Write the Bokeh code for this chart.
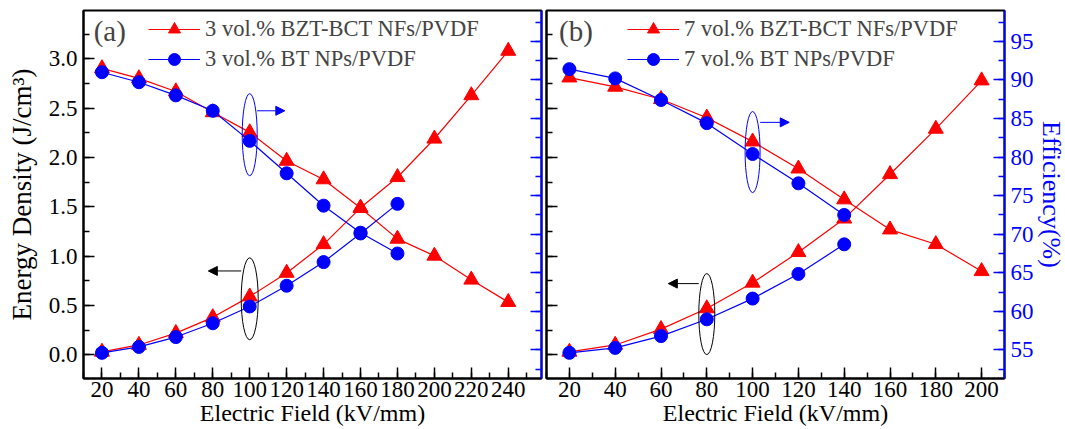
from bokeh.plotting import figure
from bokeh.models import (Range1d, LinearAxis, SingleIntervalTicker, NumeralTickFormatter,
                          CustomJSTickFormatter, Legend, LegendItem, Label, Arrow, NormalHead)
from bokeh.layouts import row
from bokeh.embed import file_html
from bokeh.resources import INLINE

# ---------------- data ----------------
field_bzt3 = [20, 40, 60, 80, 100, 120, 140, 160, 180, 200, 220, 240]
field_bt3 = [20, 40, 60, 80, 100, 120, 140, 160, 180]
ud_bzt3 = [0.03, 0.10, 0.22, 0.38, 0.59, 0.83, 1.12, 1.49, 1.80, 2.19, 2.63, 3.08]
ud_bt3 = [0.02, 0.08, 0.18, 0.32, 0.49, 0.70, 0.94, 1.23, 1.53]
eff_bzt3 = [91.5, 90.2, 88.5, 85.8, 83.2, 79.5, 77.1, 73.4, 69.4, 67.2, 64.1, 61.2]
eff_bt3 = [91.0, 89.7, 88.0, 86.0, 82.1, 77.9, 73.7, 70.2, 67.5]

field_bzt7 = [20, 40, 60, 80, 100, 120, 140, 160, 180, 200]
field_bt7 = [20, 40, 60, 80, 100, 120, 140]
ud_bzt7 = [0.03, 0.10, 0.26, 0.47, 0.73, 1.04, 1.38, 1.83, 2.29, 2.78]
ud_bt7 = [0.02, 0.07, 0.19, 0.36, 0.57, 0.82, 1.12]
eff_bzt7 = [90.3, 89.1, 87.5, 85.1, 82.0, 78.5, 74.5, 70.6, 68.7, 65.2]
eff_bt7 = [91.4, 90.2, 87.4, 84.4, 80.4, 76.6, 72.5]

labels_a = ["3 vol.% BZT-BCT NFs/PVDF", "3 vol.% BT NPs/PVDF"]
labels_b = ["7 vol.% BZT-BCT NFs/PVDF", "7 vol.% BT NPs/PVDF"]

FONT = "'Liberation Serif', 'Times New Roman', serif"
RED = "#FF0000"
BLUE = "#0000FF"
TICK_FS = "23px"
XLAB_FS = "24px"
YLAB_FS = "27px"
EFF_FS = "26px"
LEG_FS = "22.5px"
EMPTY = CustomJSTickFormatter(code="return ''")


def style_axis(ax, color, show_labels=True, major_interval=0.5, fmt="0.0"):
    ax.ticker = SingleIntervalTicker(interval=major_interval, num_minor_ticks=2)
    ax.axis_line_color = color
    ax.axis_line_width = 2
    ax.major_tick_line_color = color
    ax.minor_tick_line_color = color
    ax.major_tick_line_width = 1.5
    ax.minor_tick_line_width = 1.5
    ax.major_tick_in = 11
    ax.major_tick_out = 0
    ax.minor_tick_in = 6
    ax.minor_tick_out = 0
    ax.major_label_text_font = FONT
    ax.major_label_text_color = color
    ax.major_label_text_font_size = TICK_FS
    ax.axis_label_text_font = FONT
    ax.axis_label_text_font_style = "normal"
    ax.axis_label_text_color = color
    ax.axis_label_text_font_size = YLAB_FS
    if show_labels:
        if fmt:
            ax.formatter = NumeralTickFormatter(format=fmt)
    else:
        ax.formatter = EMPTY
        ax.major_label_standoff = 0


def make_panel(xr, yr, effr, border_left, border_right):
    p = figure(frame_width=458, frame_height=368, x_range=xr, y_range=yr,
               output_backend="svg", toolbar_location=None,
               min_border_left=border_left, min_border_right=border_right,
               min_border_top=10, min_border_bottom=50)
    p.extra_y_ranges = {"eff": effr}
    p.xgrid.visible = False
    p.ygrid.visible = False
    p.outline_line_color = "black"
    p.outline_line_width = 2
    p.background_fill_color = "white"
    p.border_fill_color = "white"
    xa = p.xaxis[0]
    style_axis(xa, "black", True, 20, None)
    xa.axis_label = "Electric Field (kV/mm)"
    xa.axis_label_text_font_size = XLAB_FS
    xa.major_label_standoff = 3
    xa.axis_label_standoff = 0
    return p


def add_series(p, fx, ud_r, ud_b, fx_b, eff_r, eff_b, labels, loc):
    r1 = p.line(fx, ud_r, line_color=RED, line_width=1.2)
    s1 = p.scatter(fx, ud_r, marker="triangle", size=15, fill_color=RED, line_color=RED)
    p.line(fx, eff_r, line_color=RED, line_width=1.2, y_range_name="eff")
    p.scatter(fx, eff_r, marker="triangle", size=15, fill_color=RED, line_color=RED, y_range_name="eff")
    r2 = p.line(fx_b, ud_b, line_color=BLUE, line_width=1.2)
    s2 = p.scatter(fx_b, ud_b, marker="circle", size=13, fill_color=BLUE, line_color=BLUE)
    p.line(fx_b, eff_b, line_color=BLUE, line_width=1.2, y_range_name="eff")
    p.scatter(fx_b, eff_b, marker="circle", size=13, fill_color=BLUE, line_color=BLUE, y_range_name="eff")
    leg = Legend(items=[LegendItem(label=labels[0], renderers=[r1, s1]),
                        LegendItem(label=labels[1], renderers=[r2, s2])],
                 location=loc, glyph_width=52, glyph_height=30, label_height=30,
                 spacing=0, padding=0, margin=0, label_standoff=5,
                 label_text_font=FONT, label_text_font_size=LEG_FS,
                 background_fill_alpha=0, border_line_color=None)
    p.add_layout(leg)


# ---------------- panel (a) ----------------
p1 = make_panel(Range1d(10, 258), Range1d(-0.24, 3.49), Range1d(51.3, 99), 83, 2)
ya = p1.yaxis[0]
style_axis(ya, "black", True, 0.5, "0.0")
ya.axis_label = "Energy Density (J/cm³)"
ya.major_label_standoff = 6
ya.axis_label_standoff = 9
ra = LinearAxis(y_range_name="eff")
style_axis(ra, BLUE, False, 5, "0")
p1.add_layout(ra, "right")
add_series(p1, field_bzt3, ud_bzt3, ud_bt3, field_bt3, eff_bzt3, eff_bt3, labels_a, (65, 304))
p1.add_layout(Label(x=15.5, y=3.28, text="(a)", text_font=FONT, text_font_size="29px",
                    text_baseline="middle"))
p1.ellipse(x=[100], y=[82.9], width=15, height=82, width_units="screen", height_units="screen",
           fill_color=None, line_color=BLUE, line_width=1, y_range_name="eff")
p1.add_layout(Arrow(end=NormalHead(size=9, fill_color=BLUE, line_color=BLUE),
                    x_start=104, y_start=86.0, x_end=119, y_end=86.0,
                    line_color=BLUE, line_width=1, y_range_name="eff"))
p1.ellipse(x=[100], y=[0.568], width=17, height=82, width_units="screen", height_units="screen",
           fill_color=None, line_color="black", line_width=1)
p1.add_layout(Arrow(end=NormalHead(size=9, fill_color="black", line_color="black"),
                    x_start=95.4, y_start=0.85, x_end=77.6, y_end=0.85,
                    line_color="black", line_width=1))

# ---------------- panel (b) ----------------
p2 = make_panel(Range1d(10, 210), Range1d(-0.24, 3.49), Range1d(51.3, 99), 3, 59)
yb = p2.yaxis[0]
style_axis(yb, "black", False, 0.5, "0.0")
rb = LinearAxis(y_range_name="eff")
style_axis(rb, BLUE, True, 5, "0")
rb.axis_label = "Efficiency(%)"
rb.axis_label_text_font_size = EFF_FS
rb.major_label_standoff = 6
rb.axis_label_standoff = 0
p2.add_layout(rb, "right")
add_series(p2, field_bzt7, ud_bzt7, ud_bt7, field_bt7, eff_bzt7, eff_bt7, labels_b, (81, 304))
p2.add_layout(Label(x=15.5, y=3.28, text="(b)", text_font=FONT, text_font_size="29px",
                    text_baseline="middle"))
p2.ellipse(x=[100], y=[80.65], width=15, height=81, width_units="screen", height_units="screen",
           fill_color=None, line_color=BLUE, line_width=1, y_range_name="eff")
p2.add_layout(Arrow(end=NormalHead(size=9, fill_color=BLUE, line_color=BLUE),
                    x_start=103.3, y_start=84.5, x_end=116, y_end=84.5,
                    line_color=BLUE, line_width=1, y_range_name="eff"))
p2.ellipse(x=[80], y=[59.65], width=16, height=81, width_units="screen", height_units="screen",
           fill_color=None, line_color="black", line_width=1, y_range_name="eff")
p2.add_layout(Arrow(end=NormalHead(size=9, fill_color="black", line_color="black"),
                    x_start=76.5, y_start=63.6, x_end=63.2, y_end=63.6,
                    line_color="black", line_width=1, y_range_name="eff"))

layout = row(p1, p2)
open("out.html", "w").write(file_html(layout, INLINE))
